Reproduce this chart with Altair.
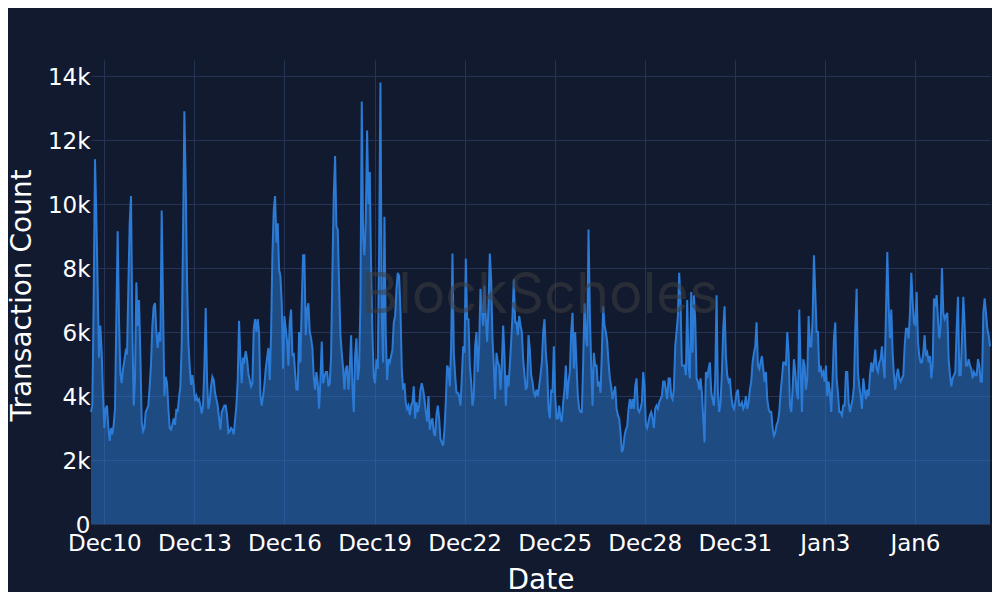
import altair as alt
import pandas as pd

# Hourly-ish transaction counts (thousands), in five consecutive segments
seg_dec09_dec15 = [3.5, 3.7, 7.0, 11.4, 9.6, 7.4, 5.2, 6.2, 5.4, 4.0,
                   3.0, 3.6, 3.7, 3.0, 2.6, 3.0, 2.8, 3.1, 3.6, 6.5,
                   9.15, 6.4, 4.7, 4.4, 4.85, 5.1, 5.4, 5.3, 7.4, 9.4,
                   10.25, 6.1, 3.7, 4.5, 7.55, 6.2, 7.0, 5.3, 3.2, 2.9,
                   3.0, 3.5, 3.6, 3.7, 4.3, 5.0, 6.2, 6.8, 6.9, 6.0,
                   5.5, 6.0, 5.7, 9.8, 6.9, 4.0, 4.6, 4.4, 3.6, 3.0,
                   2.95, 3.1, 3.3, 3.1, 3.6, 3.5, 3.95, 4.3, 5.6, 9.0,
                   12.9, 10.7, 7.6, 5.7, 4.9, 4.35, 4.65, 4.3, 3.85, 4.0,
                   3.85, 3.9, 3.7, 3.45, 3.7, 4.9, 6.75, 4.5, 3.6, 3.8,
                   4.3, 4.6, 4.5, 4.1, 3.9, 3.7, 3.3, 2.95, 3.5, 3.6,
                   3.7, 3.7, 3.4, 2.85, 2.9, 3.0, 2.95, 2.8, 3.25, 3.7,
                   4.5, 6.35, 5.2, 4.4, 5.2, 5.1, 5.4, 5.15, 4.7, 4.5,
                   4.3, 4.4, 6.1, 6.4, 6.0, 6.4, 6.0, 4.0, 3.7, 4.0,
                   4.35, 4.85, 5.2, 5.5, 4.5]
seg_dec15_dec21 = [5.9, 8.4, 9.8, 10.25, 8.8, 9.4, 7.95, 7.75, 6.9, 4.85,
                   6.5, 6.1, 5.7, 4.95, 6.3, 6.7, 5.25, 5.35, 4.75, 4.2,
                   4.2, 6.0, 5.05, 6.9, 8.4, 8.4, 5.9, 6.7, 6.9, 6.0,
                   5.8, 5.5, 4.6, 4.2, 4.75, 4.4, 3.6, 4.5, 5.7, 4.4,
                   4.6, 4.75, 4.75, 4.3, 4.4, 5.25, 7.95, 10.25, 11.5, 9.3,
                   9.2, 7.45, 5.9, 5.35, 4.85, 4.2, 4.85, 4.95, 4.2, 4.85,
                   5.9, 4.3, 3.5, 5.25, 5.8, 4.5, 4.85, 6.9, 13.2, 9.0,
                   8.4, 9.5, 12.3, 10.0, 11.0, 7.95, 5.9, 4.6, 4.4, 5.15,
                   4.85, 8.5, 13.8, 6.5, 5.05, 9.6, 5.9, 4.5, 5.15, 5.05,
                   5.25, 5.45, 6.3, 6.5, 7.35, 7.85, 7.75, 6.7, 4.85, 4.2,
                   4.4, 3.8, 3.6, 3.7, 3.4, 3.7, 3.8, 4.3, 3.3, 3.8,
                   3.5, 3.7, 4.2, 4.4, 4.2, 3.9, 3.5, 3.2, 4.0, 2.95,
                   3.2, 3.3, 2.85, 2.75, 3.4, 3.7, 3.3, 2.65, 2.55, 2.45,
                   2.95, 3.8, 4.95, 4.85, 4.3]
seg_dec21_dec27 = [5.55, 8.45, 5.35, 4.65, 4.1, 4.1, 4.0, 3.7, 4.55, 5.55,
                   5.35, 8.3, 6.4, 6.4, 4.95, 4.45, 3.7, 4.0, 5.55, 6.0,
                   4.75, 5.55, 7.35, 6.8, 6.2, 7.45, 6.4, 5.7, 6.8, 8.45,
                   7.65, 5.8, 4.95, 3.9, 5.35, 5.05, 4.95, 4.2, 4.95, 6.2,
                   5.25, 3.7, 4.65, 4.3, 4.95, 5.7, 6.5, 7.65, 6.3, 6.3,
                   5.9, 6.5, 6.2, 6.0, 5.15, 4.65, 4.2, 4.3, 5.9, 5.45,
                   4.65, 4.45, 4.1, 4.0, 4.2, 4.0, 4.3, 4.65, 5.05, 6.0,
                   6.4, 5.35, 4.85, 3.6, 3.3, 4.2, 4.1, 5.55, 4.0, 3.3,
                   3.3, 3.7, 3.3, 3.2, 3.8, 4.2, 4.95, 3.9, 4.45, 4.75,
                   6.0, 6.6, 4.85, 6.0, 4.95, 4.0, 3.6, 3.5, 3.5, 5.05,
                   6.9, 5.8, 5.55, 9.2, 6.6, 4.95, 3.7, 5.35, 4.95, 4.95,
                   4.3, 4.45, 4.1, 5.35, 6.8, 6.2, 6.0, 5.7, 5.05, 4.55,
                   4.3, 3.9, 4.1, 4.3, 3.6, 3.4, 3.3, 2.85, 2.25, 2.35,
                   2.75, 2.95, 3.05, 3.6, 3.9]
seg_dec27_jan02 = [3.6, 3.9, 3.6, 4.3, 4.55, 3.6, 3.5, 3.6, 3.8, 4.75,
                   4.3, 3.1, 3.0, 3.2, 3.4, 3.5, 3.3, 3.0, 3.6, 3.7,
                   3.6, 3.8, 3.9, 4.0, 4.45, 4.45, 4.2, 3.9, 4.55, 4.55,
                   4.0, 3.9, 4.2, 5.55, 6.0, 6.5, 7.85, 6.9, 4.95, 4.95,
                   4.95, 4.65, 7.0, 4.95, 4.55, 7.25, 5.35, 7.15, 6.4, 4.55,
                   4.45, 4.2, 4.55, 4.1, 3.3, 2.55, 4.75, 4.55, 4.85, 5.05,
                   4.1, 3.9, 3.7, 4.55, 7.15, 4.1, 3.5, 3.8, 4.75, 6.1,
                   6.8, 5.25, 4.65, 4.45, 4.55, 4.0, 3.7, 3.6, 3.8, 4.1,
                   4.2, 3.7, 3.7, 3.8, 3.6, 3.7, 4.0, 3.6, 3.8, 4.2,
                   4.45, 5.05, 5.35, 5.55, 6.3, 4.95, 4.85, 5.05, 5.25, 4.85,
                   4.45, 4.75, 3.9, 3.6, 3.5, 3.5, 3.0, 2.75, 2.85, 3.1,
                   3.2, 3.5, 4.1, 4.55, 5.05, 5.05, 4.95, 6.0, 5.35, 3.7,
                   3.5, 4.2, 5.15, 4.75, 4.2, 3.9, 6.7, 4.95, 3.5, 5.15,
                   4.95, 4.2, 4.55, 6.5, 5.55]
seg_jan02_jan08 = [5.55, 6.4, 8.4, 7.25, 6.0, 6.0, 4.75, 4.95, 4.65, 4.75,
                   4.45, 4.95, 4.0, 4.45, 4.1, 3.5, 4.55, 5.8, 6.3, 4.55,
                   4.1, 3.5, 3.5, 3.4, 3.7, 3.7, 4.75, 4.75, 3.8, 3.5,
                   3.7, 3.9, 4.3, 6.1, 7.35, 4.75, 4.3, 4.0, 3.6, 4.55,
                   4.2, 3.9, 4.2, 4.0, 4.65, 5.05, 4.75, 5.05, 5.45, 4.85,
                   4.75, 5.05, 5.15, 5.55, 4.95, 4.55, 6.6, 8.5, 6.8, 5.8,
                   6.7, 5.35, 4.65, 4.2, 4.65, 4.85, 4.55, 4.45, 4.55, 4.65,
                   5.55, 6.1, 6.1, 5.8, 6.6, 7.85, 6.95, 6.3, 6.2, 7.25,
                   5.7, 5.25, 5.05, 5.05, 5.35, 5.9, 5.25, 5.35, 5.05, 5.25,
                   4.55, 4.95, 7.05, 6.8, 7.15, 6.4, 5.8, 6.2, 8.0, 6.6,
                   6.4, 6.5, 6.6, 5.15, 4.65, 4.3, 4.55, 4.65, 4.75, 6.1,
                   7.1, 4.65, 4.65, 5.8, 7.1, 6.2, 4.95, 4.95, 5.15, 4.95,
                   4.85, 4.55, 4.75, 4.65, 4.65, 5.15, 4.95, 4.45, 4.45, 6.6,
                   7.05, 6.6, 6.1, 5.9, 5.55]

start_time = "2023-12-09T13:20:00"
end_time = "2024-01-08T12:00:00"

x_tick_dates = [(2023, 12, 10), (2023, 12, 13), (2023, 12, 16), (2023, 12, 19),
                (2023, 12, 22), (2023, 12, 25), (2023, 12, 28), (2023, 12, 31),
                (2024, 1, 3), (2024, 1, 6)]
y_ticks = [0, 2000, 4000, 6000, 8000, 10000, 12000, 14000]
y_max = 14500
watermark = ["BlockScholes"]

BG = "#111a2e"
GRID = "#253454"
LINE = "#2b7bd6"
FONT = "DejaVu Sans"

values_k = seg_dec09_dec15 + seg_dec15_dec21 + seg_dec21_dec27 + seg_dec27_jan02 + seg_jan02_jan08
times = pd.date_range(start_time, end_time, periods=len(values_k))
df = pd.DataFrame({
    "Date": times.strftime("%Y-%m-%dT%H:%M:%S"),
    "Transaction Count": [round(v * 1000) for v in values_k],
})

x_enc = alt.X(
    "Date:T",
    title="Date",
    scale=alt.Scale(nice=False),
    axis=alt.Axis(
        values=[alt.DateTime(year=y, month=m, date=d) for (y, m, d) in x_tick_dates],
        format="%b%-d",
        labelFlush=False,
        labelOverlap=False,
        labelPadding=8,
        titleY=64,
        titleBaseline="alphabetic",
    ),
)
y_enc = alt.Y(
    "Transaction Count:Q",
    title="Transaction Count",
    scale=alt.Scale(domain=[0, y_max], nice=False, zero=True),
    axis=alt.Axis(
        values=y_ticks,
        labelExpr="datum.value == 0 ? '0' : (datum.value / 1000) + 'k'",
        labelPadding=1,
        labelOffset=1,
        titleX=-61,
        titleY=235,
        titleBaseline="alphabetic",
    ),
)

base = alt.Chart(df)
area = base.mark_area(color=LINE, fillOpacity=0.5, interpolate="linear").encode(x=x_enc, y=y_enc)
line = base.mark_line(color=LINE, strokeWidth=2, interpolate="linear").encode(x="Date:T", y="Transaction Count:Q")

wm = alt.Chart(pd.DataFrame({"t": watermark})).mark_text(
    font="Inter", fontSize=56, color="#3d3d40", opacity=0.55,
    align="center", baseline="alphabetic",
).encode(text="t:N", x=alt.value(449), y=alt.value(253))

chart = (
    alt.layer(area, line, wm)
    .properties(
        width=899,
        height=464,
        background=BG,
        padding={"left": 83, "top": 52, "right": 2, "bottom": 68},
        autosize=alt.AutoSizeParams(type="none"),
    )
    .configure_view(stroke=None, fill=BG)
    .configure_axis(
        domain=False,
        ticks=False,
        tickSize=0,
        grid=True,
        gridColor=GRID,
        gridWidth=1,
        labelColor="#ffffff",
        labelFont=FONT,
        labelFontSize=23,
        titleColor="#ffffff",
        titleFont=FONT,
        titleFontSize=28,
        titleFontWeight="normal",
    )
)

chart.save("out.html", embed_options={"renderer": "svg", "actions": False})
